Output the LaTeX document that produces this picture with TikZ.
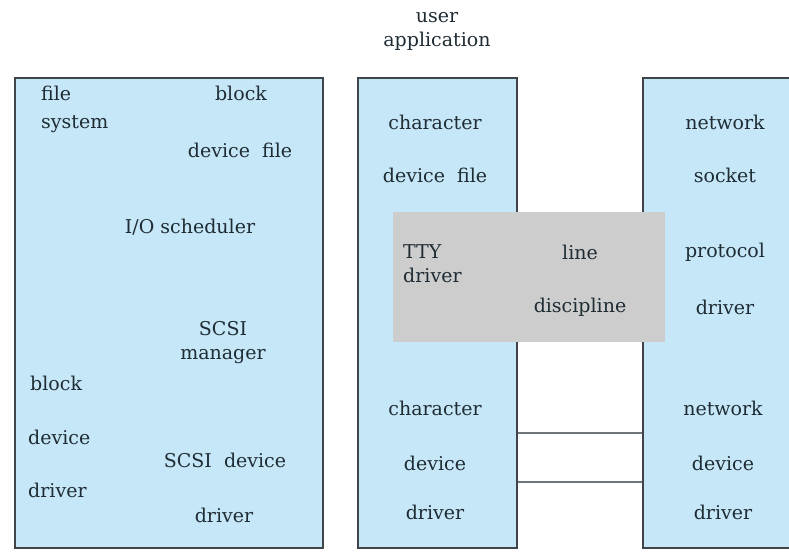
\documentclass[tikz,border=0pt]{standalone}
\usepackage{fontspec}
\setmainfont{DejaVu Serif}
\usepackage{xcolor}
\definecolor{IOBlue}{HTML}{C6E7F8}
\definecolor{IOGrey}{HTML}{CDCDCD}
\definecolor{IOEdge}{HTML}{3F4548}
\definecolor{IOText}{HTML}{1F2C34}
\definecolor{IOLink}{HTML}{6E7478}

\begin{document}
\begin{tikzpicture}[x=1pt, y=-1pt,
  layer/.style={draw=IOEdge, line width=1.4pt, fill=IOBlue, minimum width=#1,
    minimum height=470pt, inner sep=0pt},
  ttybox/.style={fill=IOGrey, minimum width=272pt, minimum height=130pt, inner sep=0pt},
  lbl/.style={font=\fontsize{19}{24}\selectfont, text=IOText, inner sep=0pt, align=center},
  link/.style={draw=IOLink, line width=1.2pt},
]
  \clip (0,0) rectangle (789,552);
  \fill[white] (0,0) rectangle (789,552);

  \node[lbl] (user) at (437,31) {user\\application};

  \node[layer=308pt] (blk) at (169,313) {};
  \node[layer=159pt] (chr) at (437.5,313) {};
  \node[layer=160pt] (net) at (723,313) {};

  \coordinate (l1) at (517,433);
  \coordinate (l2) at (517,482);
  \draw[link] (chr.east |- l1) -- (net.west |- l1);
  \draw[link] (chr.east |- l2) -- (net.west |- l2);

  \node[ttybox] (tty) at (529,277) {};

  % block side
  \node[lbl, anchor=west, align=left] (fs) at (41,109) {file\\[4pt]system};
  \node[lbl] (bf) at (241,93) {block};
  \node[lbl] (df) at (240,150) {device\ \ file};
  \node[lbl] (sched) at (190,227) {I/O scheduler};
  \node[lbl] (scsi) at (223,343) {SCSI\\manager};
  \node[lbl, anchor=west] (bd1) at (30,383) {block};
  \node[lbl, anchor=west] (bd2) at (28,437) {device};
  \node[lbl, anchor=west] (bd3) at (28,490) {driver};
  \node[lbl] (sd1) at (225,460) {SCSI\ \ device};
  \node[lbl] (sd2) at (224,515) {driver};

  % character side
  \node[lbl] (cf1) at (435,122) {character};
  \node[lbl] (cf2) at (435,175) {device\ \ file};
  \node[lbl, anchor=west, align=left] (ttyd) at (403,264) {TTY\\driver};
  \node[lbl] (ld1) at (580,252) {line};
  \node[lbl] (ld2) at (580,307) {discipline};
  \node[lbl] (cd1) at (435,408) {character};
  \node[lbl] (cd2) at (435,463) {device};
  \node[lbl] (cd3) at (435,512) {driver};

  % network side
  \node[lbl] (ns1) at (725,122) {network};
  \node[lbl] (ns2) at (725,175) {socket};
  \node[lbl] (pd1) at (725,252) {protocol};
  \node[lbl] (pd2) at (725,307) {driver};
  \node[lbl] (nd1) at (723,408) {network};
  \node[lbl] (nd2) at (723,463) {device};
  \node[lbl] (nd3) at (723,512) {driver};
\end{tikzpicture}
\end{document}
